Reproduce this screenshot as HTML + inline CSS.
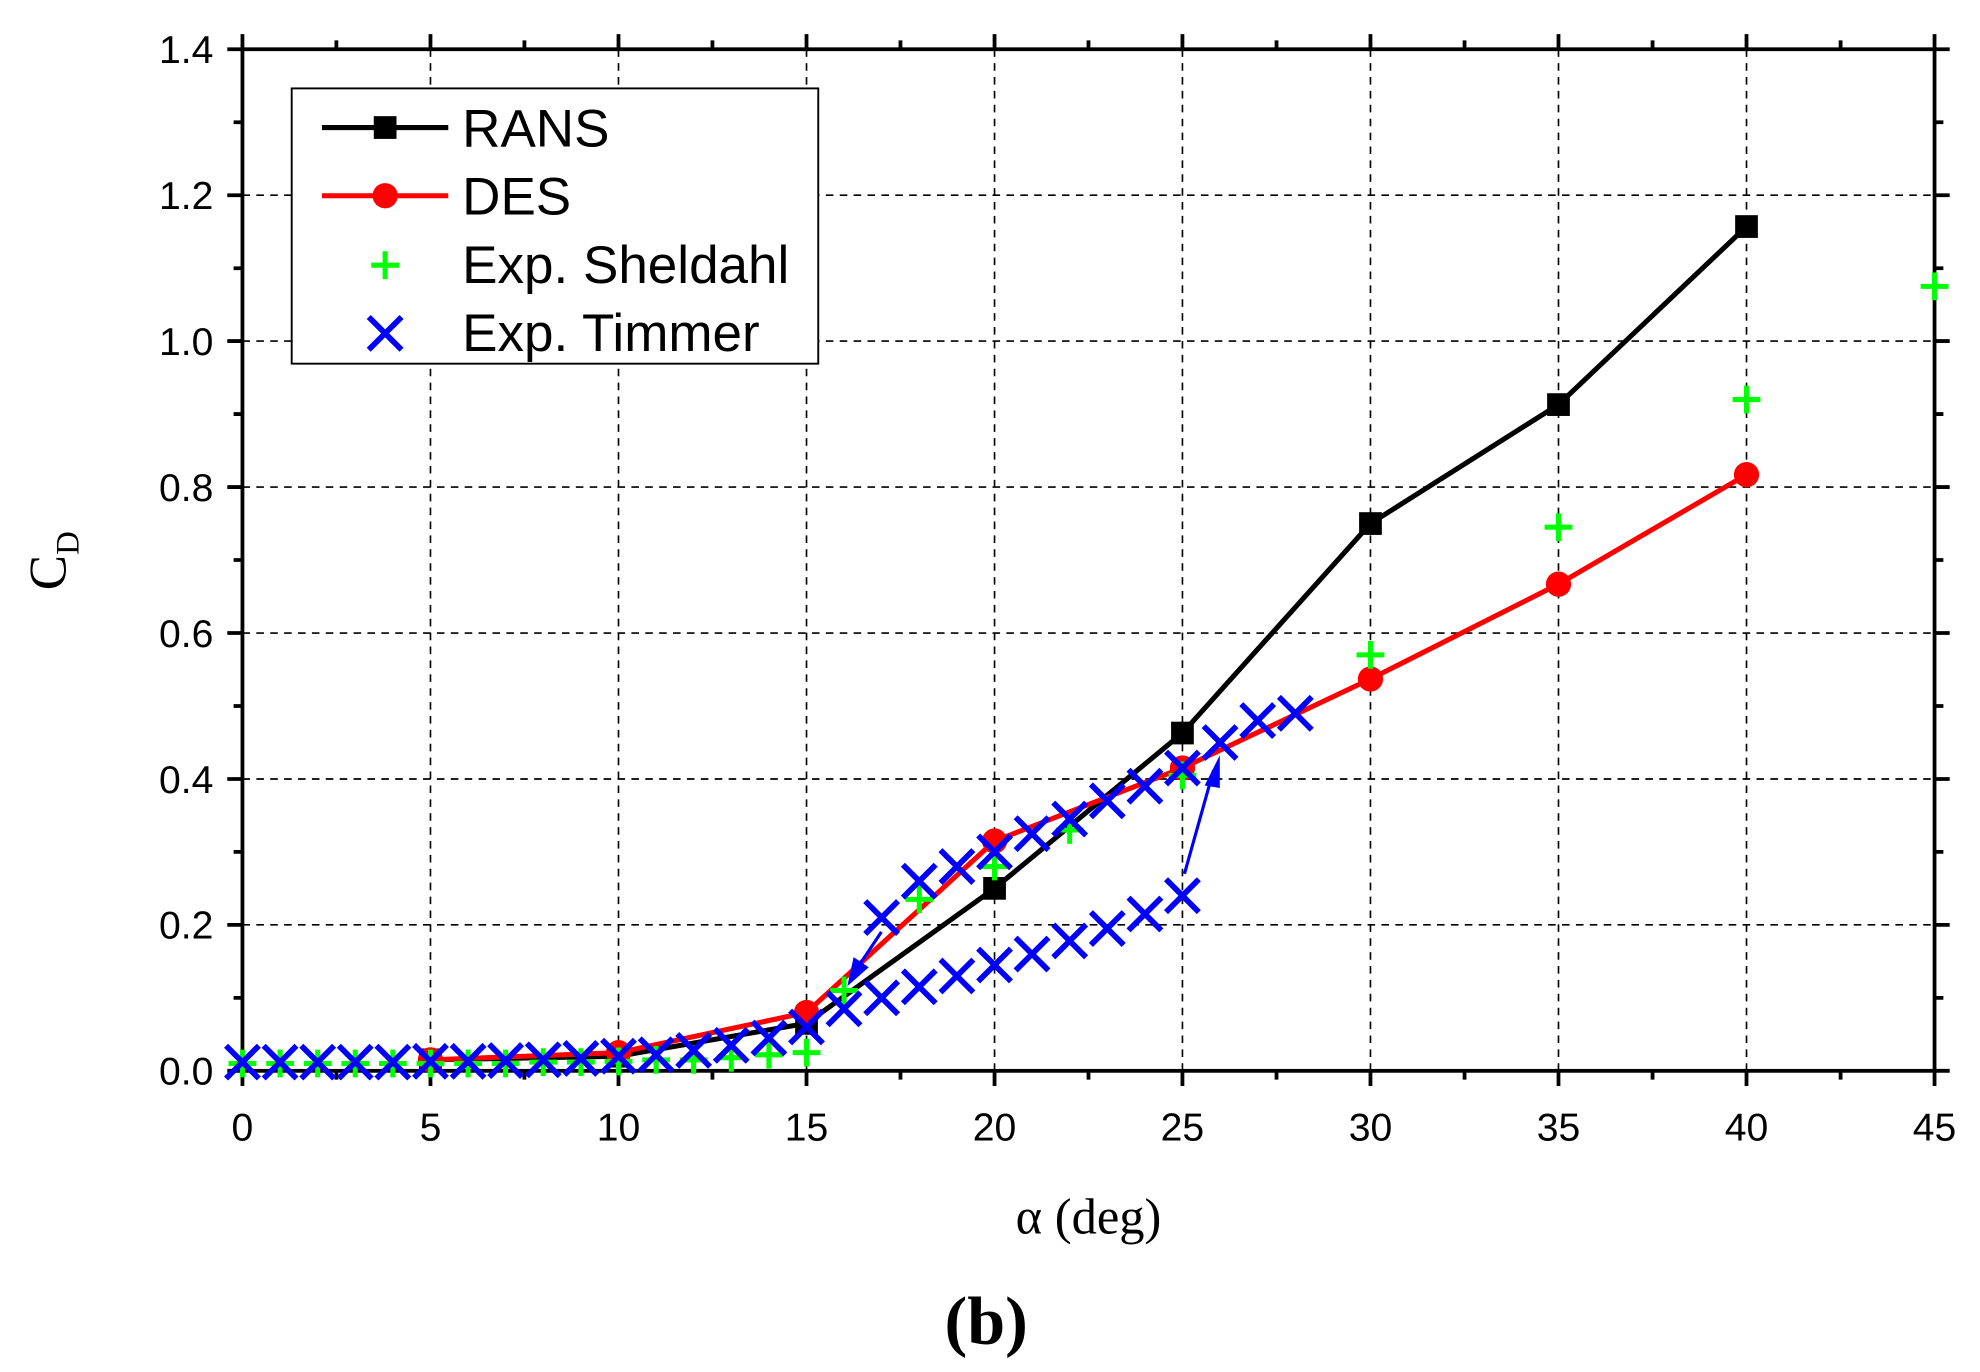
<!DOCTYPE html>
<html><head><meta charset="utf-8"><style>html,body{margin:0;padding:0;background:#fff}svg{display:block}</style></head>
<body>
<svg width="1980" height="1372" viewBox="0 0 1568 1086.5" preserveAspectRatio="none" xmlns="http://www.w3.org/2000/svg">
<defs>
<path id="p" d="M-11 0H11M0 -11V11" stroke="#0f0" stroke-width="4"/>
<path id="x" d="M-13 -13L13 13M13 -13L-13 13" stroke="#00f" stroke-width="4.5"/>
</defs>
<rect width="1568" height="1086.5" fill="#fff"/>
<g stroke="#000" stroke-width="1.3" stroke-dasharray="6,5">
<line x1="340.9" y1="39" x2="340.9" y2="848"/><line x1="489.8" y1="39" x2="489.8" y2="848"/><line x1="638.7" y1="39" x2="638.7" y2="848"/><line x1="787.6" y1="39" x2="787.6" y2="848"/><line x1="936.4" y1="39" x2="936.4" y2="848"/><line x1="1085.3" y1="39" x2="1085.3" y2="848"/><line x1="1234.2" y1="39" x2="1234.2" y2="848"/><line x1="1383.1" y1="39" x2="1383.1" y2="848"/>
<line x1="192" y1="732.4" x2="1532" y2="732.4"/><line x1="192" y1="616.9" x2="1532" y2="616.9"/><line x1="192" y1="501.3" x2="1532" y2="501.3"/><line x1="192" y1="385.7" x2="1532" y2="385.7"/><line x1="192" y1="270.1" x2="1532" y2="270.1"/><line x1="192" y1="154.6" x2="1532" y2="154.6"/>
</g>
<g stroke="#000" stroke-width="3">
<path d="M192 848v12M340.9 848v12M489.8 848v12M638.7 848v12M787.6 848v12M936.4 848v12M1085.3 848v12M1234.2 848v12M1383.1 848v12M1532 848v12M266.4 848v7M415.3 848v7M564.2 848v7M713.1 848v7M862 848v7M1010.9 848v7M1159.8 848v7M1308.7 848v7M1457.6 848v7"/>
<path d="M192 39v-12M340.9 39v-12M489.8 39v-12M638.7 39v-12M787.6 39v-12M936.4 39v-12M1085.3 39v-12M1234.2 39v-12M1383.1 39v-12M1532 39v-12M266.4 39v-7M415.3 39v-7M564.2 39v-7M713.1 39v-7M862 39v-7M1010.9 39v-7M1159.8 39v-7M1308.7 39v-7M1457.6 39v-7"/>
<path d="M192 848h-12M192 732.4h-12M192 616.9h-12M192 501.3h-12M192 385.7h-12M192 270.1h-12M192 154.6h-12M192 39h-12M192 790.2h-7M192 674.6h-7M192 559.1h-7M192 443.5h-7M192 327.9h-7M192 212.4h-7M192 96.8h-7"/>
<path d="M1532 848h12M1532 732.4h12M1532 616.9h12M1532 501.3h12M1532 385.7h12M1532 270.1h12M1532 154.6h12M1532 39h12M1532 790.2h7M1532 674.6h7M1532 559.1h7M1532 443.5h7M1532 327.9h7M1532 212.4h7M1532 96.8h7"/>
</g>
<rect x="192" y="39" width="1340" height="809" fill="none" stroke="#000" stroke-width="3"/>
<g font-family="Liberation Sans,sans-serif" font-size="31" text-anchor="middle">
<text x="192" y="903">0</text><text x="340.9" y="903">5</text><text x="489.8" y="903">10</text><text x="638.7" y="903">15</text><text x="787.6" y="903">20</text><text x="936.4" y="903">25</text><text x="1085.3" y="903">30</text><text x="1234.2" y="903">35</text><text x="1383.1" y="903">40</text><text x="1532" y="903">45</text>
</g>
<g font-family="Liberation Sans,sans-serif" font-size="31" text-anchor="end">
<text x="169" y="859">0.0</text><text x="169" y="743.4">0.2</text><text x="169" y="627.9">0.4</text><text x="169" y="512.3">0.6</text><text x="169" y="396.7">0.8</text><text x="169" y="281.1">1.0</text><text x="169" y="165.6">1.2</text><text x="169" y="50">1.4</text>
</g>
<polyline points="340.9,839.3 489.8,836.4 638.7,810.4 787.6,703.5 936.4,580.5 1085.3,414.6 1234.2,320.4 1383.1,179.4" fill="none" stroke="#000" stroke-width="4"/>
<polyline points="340.9,839.3 489.8,833.6 638.7,801.8 787.6,666 936.4,608.2 1085.3,537.7 1234.2,462.6 1383.1,375.9" fill="none" stroke="#f00" stroke-width="4"/>
<g fill="#000">
<rect x="331.9" y="830.3" width="18" height="18"/><rect x="480.8" y="827.4" width="18" height="18"/><rect x="629.7" y="801.4" width="18" height="18"/><rect x="778.6" y="694.5" width="18" height="18"/><rect x="927.4" y="571.5" width="18" height="18"/><rect x="1076.3" y="405.6" width="18" height="18"/><rect x="1225.2" y="311.4" width="18" height="18"/><rect x="1374.1" y="170.4" width="18" height="18"/>
</g>
<g fill="#f00">
<circle cx="340.9" cy="839.3" r="10"/><circle cx="489.8" cy="833.6" r="10"/><circle cx="638.7" cy="801.8" r="10"/><circle cx="787.6" cy="666" r="10"/><circle cx="936.4" cy="608.2" r="10"/><circle cx="1085.3" cy="537.7" r="10"/><circle cx="1234.2" cy="462.6" r="10"/><circle cx="1383.1" cy="375.9" r="10"/>
</g>
<use href="#p" x="192" y="842.2"/><use href="#p" x="221.8" y="842.2"/><use href="#p" x="251.6" y="842.2"/><use href="#p" x="281.3" y="842.2"/><use href="#p" x="311.1" y="842.2"/><use href="#p" x="340.9" y="842.2"/><use href="#p" x="370.7" y="842.2"/><use href="#p" x="400.4" y="842.2"/><use href="#p" x="430.2" y="841.1"/><use href="#p" x="460" y="841.1"/><use href="#p" x="489.8" y="840.5"/><use href="#p" x="519.6" y="839.3"/><use href="#p" x="549.3" y="839.3"/><use href="#p" x="579.1" y="837.6"/><use href="#p" x="608.9" y="835.3"/><use href="#p" x="638.7" y="833.6"/><use href="#p" x="668.4" y="784.4"/><use href="#p" x="728" y="712.2"/><use href="#p" x="787.6" y="686.2"/><use href="#p" x="847.1" y="657.3"/><use href="#p" x="936.4" y="614"/><use href="#p" x="1085.3" y="518.6"/><use href="#p" x="1234.2" y="417.5"/><use href="#p" x="1383.1" y="316.4"/><use href="#p" x="1532" y="226.8"/>
<use href="#x" x="192" y="841.1"/><use href="#x" x="221.8" y="841.1"/><use href="#x" x="251.6" y="841.1"/><use href="#x" x="281.3" y="841.1"/><use href="#x" x="311.1" y="841.1"/><use href="#x" x="340.9" y="840.5"/><use href="#x" x="370.7" y="840.5"/><use href="#x" x="400.4" y="839.9"/><use href="#x" x="430.2" y="839.3"/><use href="#x" x="460" y="838.2"/><use href="#x" x="489.8" y="836.4"/><use href="#x" x="519.6" y="835.3"/><use href="#x" x="549.3" y="831.8"/><use href="#x" x="579.1" y="827.8"/><use href="#x" x="608.9" y="822"/><use href="#x" x="638.7" y="813.3"/><use href="#x" x="668.4" y="798.9"/><use href="#x" x="698.2" y="790.2"/><use href="#x" x="728" y="781.5"/><use href="#x" x="757.8" y="772.9"/><use href="#x" x="787.6" y="764.2"/><use href="#x" x="817.3" y="755.5"/><use href="#x" x="847.1" y="745.1"/><use href="#x" x="876.9" y="735.3"/><use href="#x" x="906.7" y="723.8"/><use href="#x" x="936.4" y="709.3"/><use href="#x" x="966.2" y="588"/><use href="#x" x="996" y="570.6"/><use href="#x" x="1025.8" y="564.9"/><use href="#x" x="936.4" y="608.2"/><use href="#x" x="906.7" y="622.6"/><use href="#x" x="876.9" y="634.2"/><use href="#x" x="847.1" y="648.6"/><use href="#x" x="817.3" y="660.2"/><use href="#x" x="787.6" y="674.6"/><use href="#x" x="757.8" y="686.2"/><use href="#x" x="728" y="697.8"/><use href="#x" x="698.2" y="726.6"/>
<line x1="938" y1="692" x2="961" y2="610" stroke="#00f" stroke-width="2.5"/><polygon points="966,598 954,622 966,624" fill="#00f"/>
<line x1="698" y1="738" x2="680" y2="765" stroke="#00f" stroke-width="2.5"/><polygon points="671,781 676,758 688,766" fill="#00f"/>
<rect x="231" y="70" width="417" height="218" fill="#fff" stroke="#000" stroke-width="1.5"/>
<g font-family="Liberation Sans,sans-serif" font-size="42">
<line x1="255" y1="101" x2="355" y2="101" stroke="#000" stroke-width="4"/><rect x="296" y="92" width="18" height="18" fill="#000"/><text x="366" y="116">RANS</text>
<line x1="255" y1="155" x2="355" y2="155" stroke="#f00" stroke-width="4"/><circle cx="305" cy="155" r="10" fill="#f00"/><text x="366" y="170">DES</text>
<use href="#p" x="305" y="210"/><text x="366" y="224">Exp. Sheldahl</text>
<use href="#x" x="305" y="264"/><text x="366" y="278">Exp. Timmer</text>
</g>
<text x="862" y="977" font-size="40" text-anchor="middle" font-family="Liberation Serif,serif">α (deg)</text>
<text transform="translate(52,444) rotate(-90)" font-size="42" text-anchor="middle" font-family="Liberation Serif,serif">C<tspan font-size="26" dy="10">D</tspan></text>
<text x="781" y="1064" font-size="54" font-weight="bold" text-anchor="middle" font-family="Liberation Serif,serif">(b)</text>
</svg>
</body></html>
